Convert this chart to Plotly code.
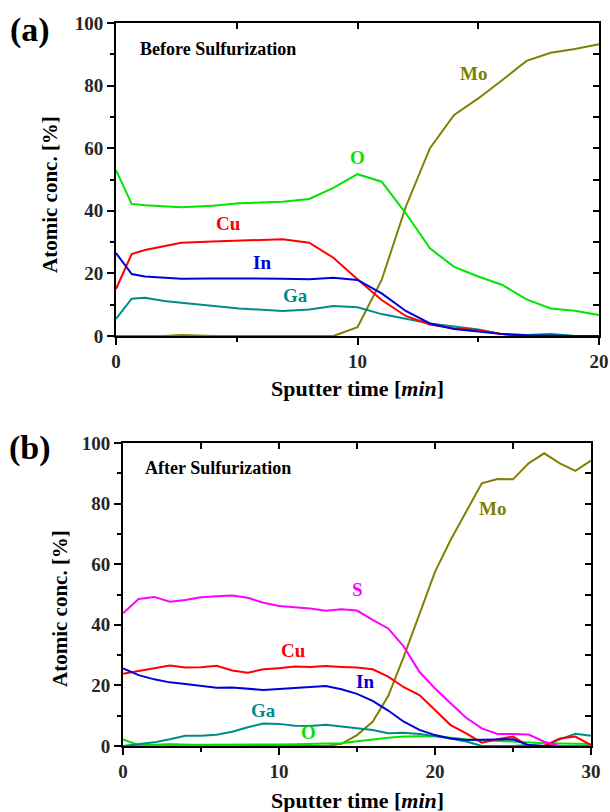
import plotly.graph_objects as go

# ---- (a) Before sulfurization: XPS depth profile ----
time_a = [0, 0.65, 1.2, 2.0, 2.7, 4.0, 5.1, 6.9, 8.0, 9.0, 10, 11, 12, 13, 14, 15, 16, 17, 18, 19, 20]
o_a  = [53.0, 42.2, 41.8, 41.4, 41.1, 41.6, 42.4, 42.9, 43.8, 47.3, 51.7, 49.3, 39.2, 28.0, 22.1, 19.0, 16.3, 11.7, 8.8, 8.1, 6.7]
cu_a = [15.0, 26.2, 27.5, 28.8, 29.8, 30.2, 30.5, 30.9, 29.8, 25.0, 18.1, 11.5, 6.4, 3.7, 2.4, 1.9, 0.6, 0, 0, 0, 0]
in_a = [26.5, 19.8, 19.0, 18.6, 18.3, 18.4, 18.4, 18.3, 18.1, 18.6, 17.9, 13.6, 8.0, 4.0, 2.2, 1.5, 0.6, 0.2, 0, 0, 0]
ga_a = [5.5, 11.9, 12.2, 11.2, 10.6, 9.6, 8.8, 8.0, 8.5, 9.6, 9.2, 7.0, 5.6, 4.0, 3.0, 2.1, 0.6, 0.3, 0.6, 0, 0]
mo_a = [0, 0, 0, 0, 0.3, 0, 0, 0, 0, 0, 2.8, 17.9, 41.3, 60.0, 70.6, 75.9, 81.8, 87.9, 90.5, 91.7, 93.2]

# ---- (b) After sulfurization ----
time_b = list(range(0, 31))
s_b  = [43.8, 48.5, 49.2, 47.6, 48.2, 49.1, 49.4, 49.7, 48.9, 47.3, 46.2, 45.8, 45.4, 44.6, 45.1, 44.7,
        41.6, 38.8, 32.8, 24.5, 19.0, 14.1, 9.3, 5.8, 4.0, 4.0, 3.8, 1.4, 0, 0, 0]
cu_b = [23.8, 24.7, 25.6, 26.6, 25.9, 26.0, 26.5, 24.9, 24.2, 25.3, 25.7, 26.2, 26.1, 26.4, 26.1, 25.9,
        25.3, 22.9, 19.4, 16.8, 11.9, 6.9, 4.2, 1.1, 2.2, 3.1, 0, 0, 2.5, 3.1, 0.3]
in_b = [25.6, 23.4, 22.0, 21.0, 20.5, 19.9, 19.2, 19.3, 19.0, 18.5, 18.8, 19.1, 19.6, 19.8, 18.7, 17.2,
        14.9, 11.7, 8.0, 5.3, 3.6, 2.5, 2.0, 2.0, 2.0, 2.2, 0.3, 0, 0, 0, 0]
ga_b = [0, 0.7, 1.2, 2.2, 3.4, 3.4, 3.7, 4.7, 6.2, 7.4, 7.3, 6.7, 6.6, 7.0, 6.4, 6.0,
        5.3, 4.2, 4.4, 4.0, 3.3, 2.5, 1.5, 0, 0, 0, 0.3, 0, 2.2, 4.0, 3.4]
o_b  = [2.2, 0.3, 0.3, 0.3, 0.3, 0.3, 0.4, 0.4, 0.5, 0.5, 0.5, 0.6, 0.7, 0.8, 0.9, 1.6,
        2.2, 2.7, 3.1, 3.3, 3.3, 2.7, 2.2, 2.0, 1.7, 1.4, 1.2, 0.9, 0.8, 0.7, 0.7]
mo_b = [0, 0.2, 0.4, 0.6, 0.4, 0.2, 0, 0, 0, 0, 0, 0, 0, 0, 0.7, 3.6,
        8.0, 16.5, 29.5, 43.8, 57.5, 68.0, 77.3, 86.7, 88.1, 88.0, 93.3, 96.6, 93.3, 90.8, 94.2]

y_ticks = [0, 20, 40, 60, 80, 100]

COL = {"O": "#00e400", "Cu": "#ff0000", "In": "#0000d8", "Ga": "#008b8b",
       "Mo": "#808000", "S": "#ff00ff"}
SERIF = "Liberation Serif"

fig = go.Figure()

series_a = [("Mo", mo_a), ("O", o_a), ("Ga", ga_a), ("Cu", cu_a), ("In", in_a)]
for name, vals in series_a:
    fig.add_trace(go.Scatter(x=time_a, y=vals, mode="lines", name=name,
                             line=dict(color=COL[name], width=2),
                             xaxis="x", yaxis="y", showlegend=False))

series_b = [("Mo", mo_b), ("O", o_b), ("Ga", ga_b), ("Cu", cu_b), ("In", in_b), ("S", s_b)]
for name, vals in series_b:
    fig.add_trace(go.Scatter(x=time_b, y=vals, mode="lines", name=name,
                             line=dict(color=COL[name], width=2),
                             xaxis="x2", yaxis="y2", showlegend=False))

# empty traces so the top/right frame axes (inward ticks) get their own subplot
for xa, ya in [("x3", "y3"), ("x4", "y4")]:
    fig.add_trace(go.Scatter(x=[], y=[], xaxis=xa, yaxis=ya, mode="lines",
                             hoverinfo="skip", showlegend=False))

tickfont = dict(family=SERIF, size=19, color="#262626", weight="bold")

def main_x(domain, rng, anchor):
    return dict(domain=domain, range=rng, anchor=anchor, tick0=0, dtick=10,
                ticks="outside", ticklen=7, tickwidth=2, tickcolor="black",
                minor=dict(dtick=5, ticks="outside", ticklen=4, tickwidth=2, tickcolor="black"),
                showline=True, linewidth=2, linecolor="black", mirror=True, zeroline=False,
                showgrid=False, tickfont=tickfont, fixedrange=True, automargin=False)

def main_y(domain, anchor):
    return dict(domain=domain, range=[0, 100], anchor=anchor, tickvals=y_ticks,
                ticks="outside", ticklen=7, tickwidth=2, tickcolor="black",
                minor=dict(dtick=10, ticks="outside", ticklen=4, tickwidth=2, tickcolor="black"),
                showline=True, linewidth=2, linecolor="black", mirror=True, zeroline=False,
                showgrid=False, tickfont=tickfont, fixedrange=True, automargin=False)

def mirror_x(over, rng, anchor):
    return dict(overlaying=over, side="top", anchor=anchor, range=rng, tick0=0, dtick=5,
                ticks="inside", ticklen=6, tickwidth=2, tickcolor="black",
                showticklabels=False, showline=True, linewidth=2, linecolor="black",
                zeroline=False, showgrid=False, fixedrange=True, automargin=False)

def mirror_y(over, anchor):
    return dict(overlaying=over, side="right", anchor=anchor, range=[0, 100], tick0=0, dtick=10,
                ticks="inside", ticklen=6, tickwidth=2, tickcolor="black",
                showticklabels=False, showline=True, linewidth=2, linecolor="black",
                zeroline=False, showgrid=False, fixedrange=True, automargin=False)

W, H = 610, 812
dom_xa = [116 / W, 599 / W]
dom_ya = [1 - 336 / H, 1 - 23 / H]
dom_xb = [123 / W, 591 / W]
dom_yb = [1 - 746 / H, 1 - 443 / H]

fig.update_layout(
    width=W, height=H,
    margin=dict(l=0, r=0, t=0, b=0, pad=0, autoexpand=False),
    paper_bgcolor="white", plot_bgcolor="white",
    xaxis=main_x(dom_xa, [0, 20], "y"),
    yaxis=main_y(dom_ya, "x"),
    xaxis2=main_x(dom_xb, [0, 30], "y2"),
    yaxis2=main_y(dom_yb, "x2"),
    xaxis3=mirror_x("x", [0, 20], "y3"),
    yaxis3=mirror_y("y", "x3"),
    xaxis4=mirror_x("x2", [0, 30], "y4"),
    yaxis4=mirror_y("y2", "x4"),
)

ann = []

def label(text, x, y, xref, yref, color, size=18, xanchor="center"):
    ann.append(dict(text=text, x=x, y=y, xref=xref, yref=yref, showarrow=False,
                    xanchor=xanchor, yanchor="middle",
                    font=dict(family=SERIF, size=size, color=color, weight="bold")))

# element labels, panel (a)
label("Mo", 14.8, 84.0, "x", "y", COL["Mo"], size=19)
label("O", 9.98, 57.0, "x", "y", COL["O"], size=19)
label("Cu", 4.65, 35.8, "x", "y", COL["Cu"], size=19)
label("In", 6.05, 23.6, "x", "y", COL["In"], size=19)
label("Ga", 7.45, 13.1, "x", "y", COL["Ga"], size=19)
label("Before Sulfurization", 0.91, 91.8, "x", "y", "black", size=18, xanchor="left")

# element labels, panel (b)
label("Mo", 23.7, 78.5, "x2", "y2", COL["Mo"], size=19)
label("S", 15.0, 51.5, "x2", "y2", COL["S"], size=19)
label("Cu", 10.95, 31.4, "x2", "y2", COL["Cu"], size=19)
label("In", 15.5, 21.4, "x2", "y2", COL["In"], size=19)
label("Ga", 9.0, 11.6, "x2", "y2", COL["Ga"], size=19)
label("O", 11.9, 4.3, "x2", "y2", COL["O"], size=19)
label("After Sulfurization", 1.28, 91.7, "x2", "y2", "black", size=18, xanchor="left")

# panel tags
label("(a)", 30 / W, 1 - 30 / H, "paper", "paper", "black", size=34)
label("(b)", 30 / W, 1 - 448 / H, "paper", "paper", "black", size=34)

# axis titles
for xc, yc in [(357.5, 388), (357, 800)]:
    ann.append(dict(text="Sputter time [<i>min</i>]", x=xc / W, y=1 - yc / H,
                    xref="paper", yref="paper", showarrow=False,
                    xanchor="center", yanchor="middle",
                    font=dict(family=SERIF, size=22, color="black", weight="bold")))
for xc, yc in [(50, 194), (60, 609)]:
    ann.append(dict(text="Atomic conc. [%]", x=xc / W, y=1 - yc / H, textangle=-90,
                    xref="paper", yref="paper", showarrow=False,
                    xanchor="center", yanchor="middle",
                    font=dict(family=SERIF, size=21, color="black", weight="bold")))

fig.update_layout(annotations=ann)

fig.write_html("out.html")
